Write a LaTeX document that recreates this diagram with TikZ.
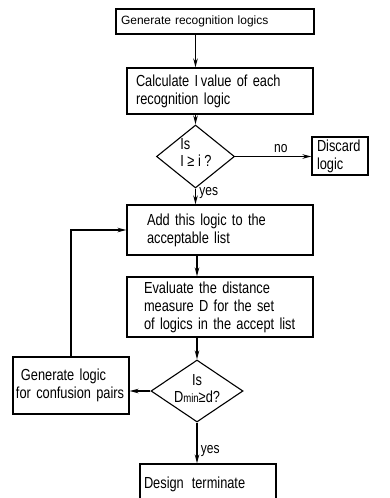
\documentclass[tikz,border=0pt]{standalone}
\usepackage{fontspec}
\setmainfont{Liberation Sans}[FakeStretch=0.8]
\newfontfamily\plainface{Liberation Sans}
\usetikzlibrary{shapes.geometric,arrows.meta}

\begin{document}
\begin{tikzpicture}[x=1pt, y=-1pt,
                    box/.style={draw, line width=1.1pt, rectangle, align=left, inner ysep=0pt, font=\fontsize{16}{18}\selectfont},
                    test/.style={draw, line width=1.1pt, diamond, inner sep=0pt},
                    testtext/.style={inner sep=0pt, font=\fontsize{16}{17}\selectfont},
                    flow/.style={line width=1.1pt, -{Stealth[length=9pt,width=4.5pt]}},
                    lbl/.style={font=\fontsize{15}{15}\selectfont}]
                    \useasboundingbox (0,0) rectangle (389,498);
                    \clip (0,0) rectangle (389,498);

                    \node[box, font=\plainface\fontsize{12}{15}\selectfont, text width=188pt, inner xsep=5pt, minimum height=25pt] (gen) at (215,21.5) {Generate recognition logics};
                    \node[box, text width=168pt, inner xsep=9pt, minimum height=46pt] (calc) at (220,91) {Calculate I\,value of each\\recognition logic};
                    \node[test, minimum width=78pt, minimum height=63pt] (test1) at (195.5,156.5) {};
                    \node[testtext, align=left] (test1txt) at (196,152) {Is\\I ≥ i ?};
                    \node[box, text width=46pt, inner xsep=5pt, minimum height=38pt] (discard) at (340,156) {Discard\\logic};
                    \node[box, text width=146pt, inner xsep=20pt, minimum height=50pt] (add) at (220,230) {Add this logic to the\\acceptable list};
                    \node[box, text width=152pt, inner xsep=17pt, minimum height=60pt] (eval) at (220,307) {Evaluate the distance\\measure D for the set\\of logics in the accept list};
                    \node[test, minimum width=92pt, minimum height=62pt] (test2) at (197,391) {};
                    \node[testtext, align=center] (test2txt) at (197,389) {Is\\D{\fontsize{12}{12}\selectfont min}≥d?};
                    \node[box, text width=110pt, inner xsep=3pt, minimum height=57pt] (conf) at (71,385.5) {\hspace*{5pt}Generate logic\\for confusion pairs};
                    \node[box, text width=128pt, inner xsep=4pt, minimum height=40pt] (term) at (208,484) {Design\, terminate};

                    \draw[flow] (gen.south -| test1.north) -- (calc.north -| test1.north);
                    \draw[flow] (calc.south -| test1.north) -- (test1.north);
                    \draw[flow] (test1.east) -- node[lbl, above, pos=0.6] {no} (test1.east -| discard.west);
                    \draw[flow] (test1.south) -- node[lbl, right, pos=0.3] {yes} (test1.south |- add.north);
                    \draw[flow] (add.south -| test2.north) -- (eval.north -| test2.north);
                    \draw[flow] (eval.south -| test2.north) -- (test2.north);
                    \draw[flow] (test2.west) -- (test2.west -| conf.east);
                    \draw[flow] (conf.north) |- (add.west);
                    \draw[flow] (test2.south) -- node[lbl, right, pos=0.7] {yes} (test2.south |- term.north);
                \end{tikzpicture}
\end{document}
